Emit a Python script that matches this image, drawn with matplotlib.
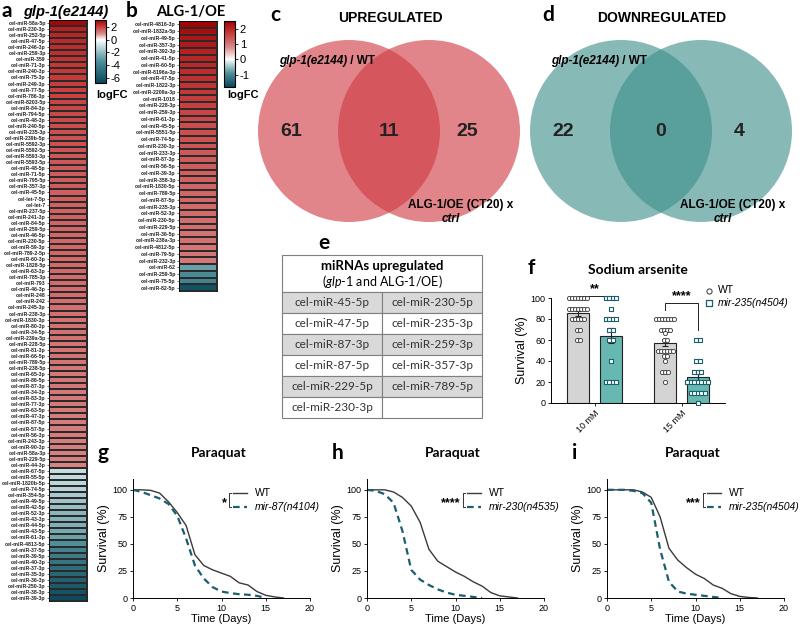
import numpy as np
import matplotlib.pyplot as plt
from matplotlib.colors import LinearSegmentedColormap
from matplotlib.patches import Circle, Rectangle

W, H = 800, 628

plt.rcParams['font.family'] = ['Liberation Sans', 'DejaVu Sans']
plt.rcParams['axes.unicode_minus'] = False
plt.rcParams['mathtext.fontset'] = 'custom'
plt.rcParams['mathtext.it'] = 'Lato:italic'
plt.rcParams['mathtext.rm'] = 'Lato'

# ---- panel a: glp-1(e2144) heatmap
glp_mirs = [
    'cel-miR-58a-5p', 'cel-miR-230-3p', 'cel-miR-252-5p', 'cel-miR-47-5p', 'cel-miR-246-3p',
    'cel-miR-259-3p', 'cel-miR-359', 'cel-miR-71-3p', 'cel-miR-240-3p', 'cel-miR-75-3p',
    'cel-miR-249-3p', 'cel-miR-77-5p', 'cel-miR-786-3p', 'cel-miR-8203-5p', 'cel-miR-84-3p',
    'cel-miR-794-5p', 'cel-miR-48-3p', 'cel-miR-240-5p', 'cel-miR-235-3p', 'cel-miR-239b-5p',
    'cel-miR-5592-3p', 'cel-miR-5592-5p', 'cel-miR-5593-3p', 'cel-miR-5593-5p', 'cel-miR-48-5p',
    'cel-miR-71-5p', 'cel-miR-795-5p', 'cel-miR-357-3p', 'cel-miR-45-5p', 'cel-let-7-5p',
    'cel-let-7', 'cel-miR-237-5p', 'cel-miR-241-3p', 'cel-miR-84-5p', 'cel-miR-259-5p',
    'cel-miR-46-5p', 'cel-miR-230-5p', 'cel-miR-59-3p', 'cel-miR-789-2-5p', 'cel-miR-60-3p',
    'cel-miR-1828-5p', 'cel-miR-63-3p', 'cel-miR-785-3p', 'cel-miR-793', 'cel-miR-46-3p',
    'cel-miR-248', 'cel-miR-242', 'cel-miR-245-3p', 'cel-miR-238-3p', 'cel-miR-1830-3p',
    'cel-miR-80-3p', 'cel-miR-34-5p', 'cel-miR-239a-5p', 'cel-miR-228-5p', 'cel-miR-81-3p',
    'cel-miR-66-5p', 'cel-miR-789-5p', 'cel-miR-238-5p', 'cel-miR-65-3p', 'cel-miR-86-5p',
    'cel-miR-87-3p', 'cel-miR-34-3p', 'cel-miR-83-3p', 'cel-miR-77-3p', 'cel-miR-63-5p',
    'cel-miR-47-3p', 'cel-miR-87-5p', 'cel-miR-57-5p', 'cel-miR-56-3p', 'cel-miR-243-3p',
    'cel-miR-90-3p', 'cel-miR-58a-3p', 'cel-miR-229-5p', 'cel-miR-44-3p',
    'cel-miR-67-5p', 'cel-miR-55-5p', 'cel-miR-1820b-5p', 'cel-miR-74-5p', 'cel-miR-354-5p',
    'cel-miR-49-5p', 'cel-miR-42-5p', 'cel-miR-52-3p', 'cel-miR-43-3p', 'cel-miR-44-5p',
    'cel-miR-43-5p', 'cel-miR-61-3p', 'cel-miR-4813-5p', 'cel-miR-37-5p', 'cel-miR-39-5p',
    'cel-miR-40-3p', 'cel-miR-37-3p', 'cel-miR-35-3p', 'cel-miR-36-3p', 'cel-miR-250-3p',
    'cel-miR-38-3p', 'cel-miR-39-3p',
]
glp_logfc = [
    2.95, 2.55, 2.45, 2.4, 2.35, 2.3, 2.25, 2.2, 2.15, 2.12,
    2.08, 2.05, 2.0, 1.97, 1.93, 1.9, 1.87, 1.84, 1.8, 1.78,
    1.75, 1.72, 1.7, 1.68, 1.65, 1.63, 1.61, 1.6, 1.58, 1.56,
    1.55, 1.53, 1.52, 1.5, 1.49, 1.47, 1.46, 1.45, 1.44, 1.42,
    1.41, 1.4, 1.39, 1.38, 1.37, 1.36, 1.35, 1.34, 1.33, 1.32,
    1.31, 1.3, 1.29, 1.28, 1.27, 1.26, 1.25, 1.24, 1.23, 1.22,
    1.21, 1.2, 1.19, 1.18, 1.17, 1.16, 1.15, 1.14, 1.13, 1.12,
    1.11, 1.1, 1.09, 1.08,
    -1.0, -1.1, -1.2, -1.3, -1.6, -1.8, -2.0, -2.2, -2.3, -2.4,
    -2.6, -2.8, -3.4, -4.0, -4.3, -4.6, -5.0, -5.3, -5.6, -5.9,
    -6.2, -6.6,
]

# ---- panel b: ALG-1/OE heatmap
alg_mirs = [
    'cel-miR-4816-3p', 'cel-miR-1832a-5p', 'cel-miR-49-5p', 'cel-miR-357-3p', 'cel-miR-392-3p',
    'cel-miR-41-5p', 'cel-miR-60-5p', 'cel-miR-8196a-3p', 'cel-miR-47-5p', 'cel-miR-1822-3p',
    'cel-miR-2209a-3p', 'cel-miR-1018', 'cel-miR-228-3p', 'cel-miR-259-3p', 'cel-miR-61-3p',
    'cel-miR-45-5p', 'cel-miR-5551-5p', 'cel-miR-74-5p', 'cel-miR-230-3p', 'cel-miR-233-3p',
    'cel-miR-87-3p', 'cel-miR-56-5p', 'cel-miR-39-3p', 'cel-miR-358-3p', 'cel-miR-1830-5p',
    'cel-miR-789-5p', 'cel-miR-87-5p', 'cel-miR-235-3p', 'cel-miR-52-3p', 'cel-miR-230-5p',
    'cel-miR-229-5p', 'cel-miR-36-5p', 'cel-miR-238a-3p', 'cel-miR-4812-5p', 'cel-miR-79-5p',
    'cel-miR-232-3p', 'cel-miR-62', 'cel-miR-259-5p', 'cel-miR-75-5p', 'cel-miR-82-5p',
]
alg_logfc = [
    2.45, 2.3, 2.2, 2.15, 2.05, 2.0, 1.95, 1.9, 1.85, 1.8,
    1.75, 1.7, 1.65, 1.6, 1.55, 1.5, 1.46, 1.42, 1.38, 1.35,
    1.32, 1.3, 1.27, 1.25, 1.22, 1.2, 1.18, 1.15, 1.13, 1.1,
    1.08, 1.06, 1.04, 1.02, 1.0, 0.98,
    -0.75, -0.95, -1.05, -1.65,
]

# ---- panels c, d: Venn counts (glp-1 only, both, ALG-1 only)
venn_up = [61, 11, 25]
venn_down = [22, 0, 4]

# ---- panel e: common upregulated miRNAs
common_up = ['cel-miR-45-5p', 'cel-miR-47-5p', 'cel-miR-87-3p', 'cel-miR-87-5p',
             'cel-miR-229-5p', 'cel-miR-230-3p',
             'cel-miR-230-5p', 'cel-miR-235-3p', 'cel-miR-259-3p', 'cel-miR-357-3p',
             'cel-miR-789-5p']

# ---- panel f: sodium arsenite survival
arsenite_conc = ['10 mM', '15 mM']
wt_mean = [85.5, 57.5]
wt_sem = [2.5, 3.5]
mut_mean = [64.0, 24.5]
mut_sem = [7.0, 3.5]
wt_10 = [100, 100, 100, 100, 100, 100, 100, 90, 90, 90, 90, 90, 90, 90,
         80, 80, 80, 80, 80, 70, 70, 60, 60]
mut_10 = [100, 100, 100, 100, 90, 80, 80, 80, 80, 70, 70, 60, 60, 40,
          20, 20, 20, 20]
wt_15 = [80, 80, 80, 80, 80, 80, 80, 70, 70, 70, 70, 67, 60, 60,
         50, 50, 50, 50, 50, 50, 45, 45, 40, 30, 30, 30, 20]
mut_15 = [60, 60, 40, 40, 30, 30, 30, 20, 20, 20, 20, 20, 20, 20,
          10, 10, 10, 10, 10, 0]

# ---- panels g, h, i: paraquat survival (% alive per day)
days = [0, 1, 2, 3, 4, 5, 6, 7, 8, 9, 10, 11, 12, 13, 14, 15, 16, 17]
g_wt = [100, 100, 99.5, 97, 89, 79, 67, 40, 30, 26, 23, 20, 14, 12, 6, 2.5, 1, 0]
g_mut = [100, 98, 95, 92, 87, 76, 55, 30, 18, 10, 6, 4.5, 3.5, 3, 2, 0]
h_wt = [100, 100, 100, 98, 93, 85, 70, 45, 34, 29, 24, 20, 15, 11, 5, 2, 1, 0]
h_mut = [100, 99, 96, 88, 62, 26, 17, 12, 8, 5, 3, 2, 1, 0]
i_wt = [100, 100, 100, 100, 98, 93, 75, 46, 35, 28, 22, 18, 12, 9, 4, 1.5, 0.5, 0]
i_mut = [100, 100, 100, 99, 97, 88, 45, 15, 6, 4, 3, 2, 1, 0]

RED = '#d03a42'
TEAL = '#3e8f8c'
DARK_TEAL = '#1b5e6e'

fig = plt.figure(figsize=(W / 100, H / 100), dpi=100)
ov = fig.add_axes([0, 0, 1, 1])
ov.set_xlim(0, W)
ov.set_ylim(H, 0)
ov.axis('off')


def px_axes(x0, y0, x1, y1):
    return fig.add_axes([x0 / W, 1 - y1 / H, (x1 - x0) / W, (y1 - y0) / H])


def make_cmap(vmin, vmax):
    p = lambda v: (v - vmin) / (vmax - vmin)
    nodes = [(0.0, '#08475a'), (p(vmin * 0.5), '#4f8f99'), (p(vmin * 0.15), '#c5dce0'),
             (p(0), '#ffffff'), (p(vmax * 0.33), '#d98585'), (p(vmax * 0.66), '#c84040'),
             (1.0, '#a00000')]
    return LinearSegmentedColormap.from_list('fc', nodes)


def heatmap(names, vals, box, cbox, vmin, vmax, cticks):
    ax = px_axes(*box)
    m = ax.pcolormesh(np.array(vals).reshape(-1, 1), cmap=make_cmap(vmin, vmax),
                      vmin=vmin, vmax=vmax, edgecolors='#2a2a2a', linewidth=0.35)
    ax.set_ylim(len(vals), 0)
    ax.set_xticks([])
    ax.set_yticks(np.arange(len(vals)) + 0.5)
    ax.set_yticklabels(names, fontsize=3.8, fontweight='bold', color='#222222')
    ax.tick_params(axis='y', length=1.5, width=0.4, pad=0.8)
    for s in ax.spines.values():
        s.set_linewidth(0.6)
    cax = px_axes(*cbox)
    cb = fig.colorbar(m, cax=cax, ticks=cticks)
    cb.outline.set_linewidth(0.8)
    cax.tick_params(labelsize=8, length=2, width=0.6, pad=1.5)


LETTER = dict(fontsize=15, fontweight='bold', family='Lato', va='center', ha='left')

# a
heatmap(glp_mirs, glp_logfc, (49, 20, 87, 601), (95, 20, 106, 83), -6.8, 3.1, [2, 0, -2, -4, -6])
ov.text(2, 11, 'a', **LETTER)
ov.text(66, 12, 'glp-1(e2144)', fontsize=10.5, fontweight='bold', style='italic',
        ha='center', va='center')
ov.text(112, 95, 'logFC', fontsize=8, fontweight='bold', ha='center', va='center')

# b
heatmap(alg_mirs, alg_logfc, (179, 21, 217, 291), (224, 21, 235, 87), -1.8, 2.5, [2, 1, 0, -1])
ov.text(126, 11, 'b', **LETTER)
ov.text(191, 12, 'ALG-1/OE', fontsize=10.5, fontweight='bold', family='Lato',
        ha='center', va='center')
ov.text(243, 95, 'logFC', fontsize=8, fontweight='bold', ha='center', va='center')


# c, d Venn
def venn(cx, counts, color, title, letter):
    r = 91
    for dx in (-40, 40):
        ov.add_patch(Circle((cx + dx, 131), r, fc=color, alpha=0.62, lw=0))
    for xoff, n in zip((-98, 0, 78), counts):
        ov.text(cx + xoff, 131, str(n), fontsize=14, fontweight='bold',
                ha='center', va='center', color='#222222')
    ov.text(cx + 1, 18, title, fontsize=10, fontweight='bold', ha='center', va='center')
    ov.text(cx - 119, 15, letter, **LETTER)
    ov.text(cx - 42, 61, 'glp-1(e2144)', fontsize=8.5, fontweight='bold', style='italic',
            ha='right', va='center')
    ov.text(cx - 42, 61, ' / WT', fontsize=8.5, fontweight='bold', ha='left', va='center')
    ov.text(cx + 72, 205, 'ALG-1/OE (CT20) x', fontsize=8.5, fontweight='bold',
            ha='center', va='center')
    ov.text(cx + 62, 219, 'ctrl', fontsize=8.5, fontweight='bold', style='italic',
            ha='center', va='center')


venn(389, venn_up, RED, 'UPREGULATED', 'c')
venn(661, venn_down, TEAL, 'DOWNREGULATED', 'd')

# e table
tx0, tx1, tmid = 282, 482, 382
ty0, row_h = 292, 21
head_top = 255
ov.add_patch(Rectangle((tx0, head_top), tx1 - tx0, ty0 - head_top, fc='white',
                       ec='#7f7f7f', lw=0.8))
ov.text(tmid, 266, 'miRNAs upregulated', fontsize=9.5, fontweight='bold', family='Lato',
        ha='center', va='center')
ov.text(tmid, 281, r'($\mathit{glp}$-$\mathit{1}$ and ALG-1/OE)', fontsize=9, family='Lato',
        ha='center', va='center')
n_rows = (len(common_up) + 1) // 2
for i in range(n_rows):
    y = ty0 + i * row_h
    fc = '#d9d9d9' if i % 2 == 0 else 'white'
    for c in range(2):
        x = tx0 if c == 0 else tmid
        ov.add_patch(Rectangle((x, y), tmid - tx0, row_h, fc=fc if (c * n_rows + i) < len(common_up) or fc == 'white' else 'white',
                               ec='#7f7f7f', lw=0.8))
        k = c * n_rows + i
        if k < len(common_up):
            ov.text(x + (tmid - tx0) / 2, y + row_h / 2, common_up[k], fontsize=8.5,
                    family='Lato', ha='center', va='center', color='#333333')
ov.text(318, 243, 'e', **LETTER)

# f bar chart
axf = px_axes(551, 298, 725, 403)
centers = np.array([2.0, 6.0])
wt_x = centers - 0.75
mut_x = centers + 0.75
axf.bar(wt_x, wt_mean, width=1.0, color='#d4d4d4', edgecolor='#222222', lw=0.8, zorder=1)
axf.bar(mut_x, mut_mean, width=1.0, color='#66b8b0', edgecolor='#222222', lw=0.8, zorder=1)
axf.errorbar(wt_x, wt_mean, yerr=wt_sem, fmt='none', ecolor='#222222', capsize=2,
             elinewidth=0.8, capthick=0.8, zorder=2)
axf.errorbar(mut_x, mut_mean, yerr=mut_sem, fmt='none', ecolor='#222222', capsize=2,
             elinewidth=0.8, capthick=0.8, zorder=2)


def swarm(vals, center, step=0.14):
    vals = np.asarray(vals, dtype=float)
    out = np.empty(len(vals))
    for v in np.unique(vals):
        idx = np.where(vals == v)[0]
        out[idx] = center + (np.arange(len(idx)) - (len(idx) - 1) / 2) * step
    return out


for pts, cx in ((wt_10, wt_x[0]), (wt_15, wt_x[1])):
    axf.scatter(swarm(pts, cx), pts, s=9, facecolors='white', edgecolors='#333333',
                linewidths=0.6, zorder=3, clip_on=False)
for pts, cx in ((mut_10, mut_x[0]), (mut_15, mut_x[1])):
    axf.scatter(swarm(pts, cx, 0.16), pts, s=9, marker='s', facecolors='white',
                edgecolors=DARK_TEAL, linewidths=0.8, zorder=3, clip_on=False)
h_wt_leg = axf.scatter([], [], s=14, facecolors='white', edgecolors='#333333', linewidths=0.7)
h_mut_leg = axf.scatter([], [], s=14, marker='s', facecolors='white', edgecolors=DARK_TEAL,
                        linewidths=0.9)
axf.legend([h_wt_leg, h_mut_leg], ['WT', 'mir-235(n4504)'], loc='upper left',
           bbox_to_anchor=(0.85, 1.17), frameon=False, fontsize=7.5, handletextpad=0.3,
           labelspacing=0.25, borderpad=0, handlelength=1.0,
           prop={'style': 'normal', 'size': 7.5})
leg = axf.get_legend()
leg.get_texts()[1].set_style('italic')
axf.set_xlim(0, 8)
axf.set_ylim(0, 100)
axf.set_yticks([0, 20, 40, 60, 80, 100])
axf.set_xticks(centers)
axf.set_xticklabels(arsenite_conc, rotation=45, ha='right', rotation_mode='anchor')
axf.tick_params(labelsize=6.5, length=2.5, width=0.6, pad=1.5)
axf.set_ylabel('Survival (%)', fontsize=9, labelpad=2)
for s in ('top', 'right'):
    axf.spines[s].set_visible(False)
for s in ('left', 'bottom'):
    axf.spines[s].set_linewidth(0.7)
# significance brackets
axf.plot([wt_x[0], wt_x[0], mut_x[0], mut_x[0]], [100.5, 102, 102, 100.5], color='#222222',
         lw=0.7, clip_on=False)
axf.text(centers[0], 103, '**', fontsize=9, fontweight='bold', ha='center', va='bottom')
axf.plot([wt_x[1], wt_x[1], mut_x[1], mut_x[1]], [89, 95.5, 95.5, 70], color='#222222',
         lw=0.7, clip_on=False)
axf.text(centers[1], 96, '****', fontsize=9, fontweight='bold', ha='center', va='bottom')
ov.text(528, 268, 'f', **LETTER)
ov.text(638, 270, 'Sodium arsenite', fontsize=10, fontweight='bold', family='Lato',
        ha='center', va='center')


# g, h, i survival curves
def km_panel(x0, wt, mut, mut_label, stars, letter):
    ax = px_axes(x0, 479, x0 + 177, 598)
    ax.plot(days[:len(wt)], wt, color='#3a3a3a', lw=1.0)
    ax.plot(days[:len(mut)], mut, color=DARK_TEAL, lw=1.6, ls=(0, (3, 2)))
    ax.set_xlim(0, 20)
    ax.set_ylim(0, 110)
    ax.set_xticks([0, 5, 10, 15, 20])
    ax.set_yticks([0, 25, 50, 75, 100])
    ax.tick_params(labelsize=6.5, length=2.5, width=0.6, pad=1.5)
    for s in ('top', 'right'):
        ax.spines[s].set_visible(False)
    for s in ('left', 'bottom'):
        ax.spines[s].set_linewidth(0.7)
    ax.set_xlabel('Time (Days)', fontsize=8, labelpad=1)
    ax.set_ylabel('Survival (%)', fontsize=9, labelpad=2)
    ya, yb = 0.882, 0.765
    ax.plot([0.565, 0.645], [ya, ya], transform=ax.transAxes, color='#3a3a3a', lw=1.0,
            clip_on=False)
    ax.plot([0.565, 0.645], [yb, yb], transform=ax.transAxes, color=DARK_TEAL, lw=1.6,
            ls=(0, (3, 2)), clip_on=False)
    ax.text(0.69, ya, 'WT', transform=ax.transAxes, fontsize=7.5, va='center')
    ax.text(0.69, yb, mut_label, transform=ax.transAxes, fontsize=7.5, va='center',
            style='italic')
    ax.plot([0.555, 0.542, 0.542, 0.555], [ya, ya, yb, yb], transform=ax.transAxes,
            color='#333333', lw=0.7, clip_on=False)
    ax.text(0.53, 0.80, stars, transform=ax.transAxes, fontsize=9, fontweight='bold',
            ha='right', va='center')
    ov.text(x0 - 35, 453, letter, **LETTER)
    ov.text(x0 + 86, 453, 'Paraquat', fontsize=10, fontweight='bold', family='Lato',
            ha='center', va='center')


km_panel(133, g_wt, g_mut, 'mir-87(n4104)', '*', 'g')
km_panel(367, h_wt, h_mut, 'mir-230(n4535)', '****', 'h')
km_panel(607, i_wt, i_mut, 'mir-235(n4504)', '***', 'i')

fig.savefig('out.png', dpi=100)
